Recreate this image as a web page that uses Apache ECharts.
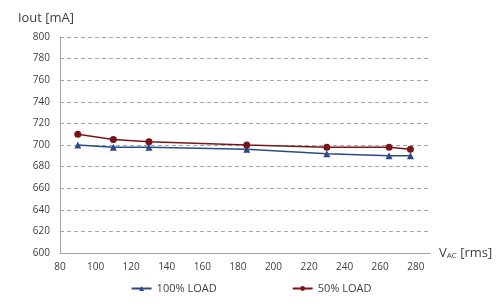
<!DOCTYPE html>
<html><head><meta charset="utf-8">
<script src="https://cdn.jsdelivr.net/npm/echarts@6/dist/echarts.min.js"></script>
<style>html,body{margin:0;padding:0;background:#fff}#c{width:502px;height:308px}</style>
</head><body><div id="c"></div>
<script>
const vac = [90, 110, 130, 185, 230, 265, 277];
const load100 = [700, 698, 698, 696, 692, 690, 690];
const load50 = [710, 705, 703, 700, 698, 698, 696];
const seriesNames = ['100% LOAD', '50% LOAD'];

const FONT = '"Open Sans", sans-serif';
const chart = echarts.init(document.getElementById('c'));
chart.setOption({
  animation: false,
  textStyle: {fontFamily: FONT},
  grid: {left: 60, right: 72, top: 37, bottom: 55},
  xAxis: {
    type: 'value', min: 80, max: 288, interval: 20,
    axisLine: {lineStyle: {color: '#a6a6a6'}},
    axisTick: {show: false},
    splitLine: {show: false},
    axisLabel: {color: '#404040', fontSize: 10, margin: 9, showMaxLabel: false,
      formatter: v => (v % 20 === 0 ? String(v) : '')},
    name: '{v|V}{s|AC}{v| [rms]}',
    nameLocation: 'end', nameGap: 9,
    nameTextStyle: {verticalAlign: 'middle', padding: [0, 0, 0, 0],
      rich: {v: {fontSize: 13, color: '#404040', fontFamily: FONT}, s: {fontSize: 8, color: '#404040', fontFamily: FONT, verticalAlign: 'bottom'}}}
  },
  yAxis: {
    type: 'value', min: 600, max: 800, interval: 20,
    axisLine: {show: true, lineStyle: {color: '#a6a6a6'}},
    axisTick: {show: false},
    splitLine: {lineStyle: {color: '#a6a6a6', type: [4, 3]}},
    axisLabel: {color: '#404040', fontSize: 10, margin: 10},
    name: 'Iout [mA]', nameLocation: 'end', nameGap: 12,
    nameTextStyle: {color: '#404040', fontSize: 13, align: 'center', padding: [0, 28, 0, 0]}
  },
  legend: {
    bottom: 9, left: 'center', itemGap: 75, itemWidth: 20, itemHeight: 6,
    textStyle: {color: '#404040', fontSize: 11, fontFamily: FONT},
    data: seriesNames
  },
  series: [
    {name: seriesNames[0], type: 'line', data: vac.map((x, i) => [x, load100[i]]),
      symbol: 'triangle', symbolSize: 7, color: '#2a4a87',
      lineStyle: {width: 1.5, color: '#2a4a87'}, itemStyle: {color: '#2a4a87'}},
    {name: seriesNames[1], type: 'line', data: vac.map((x, i) => [x, load50[i]]),
      symbol: 'circle', symbolSize: 7, color: '#7a1517',
      lineStyle: {width: 1.5, color: '#7a1517'}, itemStyle: {color: '#7a1517'}}
  ]
});
</script></body></html>
